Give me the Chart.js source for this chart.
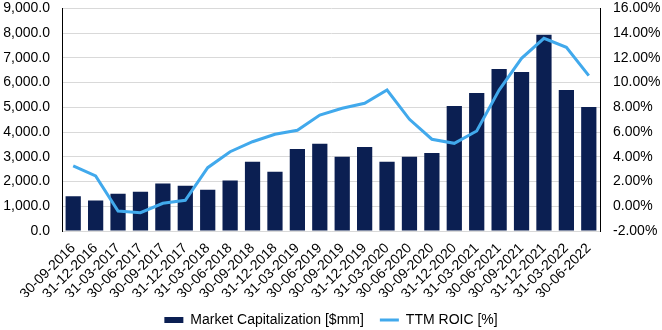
<!DOCTYPE html>
<html>
<head>
<meta charset="utf-8">
<script src="https://cdn.jsdelivr.net/npm/chart.js@4"></script>
<style>
  html, body { margin: 0; padding: 0; background: #fff; }
  #wrap { width: 662px; height: 330px; position: relative; }
</style>
</head>
<body>
<div id="wrap"><canvas id="chart"></canvas></div>
<script>
'use strict';

const quarters = [
  '30-09-2016','31-12-2016','31-03-2017','30-06-2017','30-09-2017','31-12-2017',
  '31-03-2018','30-06-2018','30-09-2018','31-12-2018','31-03-2019','30-06-2019',
  '30-09-2019','31-12-2019','31-03-2020','30-06-2020','30-09-2020','31-12-2020',
  '31-03-2021','30-06-2021','30-09-2021','31-12-2021','31-03-2022','30-06-2022',
];

const marketCap = [
  1400, 1230, 1510, 1590, 1920, 1830,
  1670, 2040, 2800, 2400, 3320, 3530,
  3000, 3400, 2800, 3000, 3150, 5050,
  5580, 6550, 6430, 7930, 5700, 5010,
];

const ttmRoic = [
  3.26, 2.45, -0.38, -0.52, 0.24, 0.48,
  3.12, 4.41, 5.22, 5.82, 6.14, 7.38,
  7.92, 8.33, 9.40, 7.03, 5.42, 5.09,
  6.09, 9.40, 11.96, 13.58, 12.85, 10.56,
];

const NAVY = '#0b1f52';
const SKY  = '#41a9ec';
const FONT = { family: '"Liberation Sans", Arial, sans-serif', size: 14 };

const fmtCap = v => v.toLocaleString('en-US', { minimumFractionDigits: 1, maximumFractionDigits: 1 });
const fmtPct = v => v.toFixed(2) + '%';

// legend spacing comes from labels.padding, which also grows the legend box;
// the x axis height is trimmed so the plot bottom stays put (labels clip to it)
new Chart(document.getElementById('chart'), {
  data: {
    labels: quarters,
    datasets: [
      {
        type: 'line',
        label: 'TTM ROIC [%]',
        data: ttmRoic,
        yAxisID: 'y2',
        borderColor: SKY,
        backgroundColor: SKY,
        borderWidth: 3,
        pointRadius: 0,
        tension: 0,
        pointStyle: 'line',
        order: 0,
      },
      {
        type: 'bar',
        label: 'Market Capitalization [$mm]',
        data: marketCap,
        yAxisID: 'y',
        backgroundColor: NAVY,
        borderWidth: 0,
        barPercentage: 0.68,
        categoryPercentage: 1,
        pointStyle: 'rect',
        order: 1,
      },
    ],
  },
  options: {
    responsive: true, maintainAspectRatio: false, animation: false,
    layout: { padding: { top: 0, left: 0, right: 0, bottom: -7 } },
    plugins: {
      legend: {
        position: 'bottom',
        reverse: true,
        labels: {
          font: FONT, color: '#000', usePointStyle: true,
          boxHeight: 6, pointStyleWidth: 19, padding: 16,
        },
      },
      tooltip: { enabled: false },
    },
    scales: {
      x: {
        ticks: { font: FONT, color: '#000', maxRotation: 45, minRotation: 45, autoSkip: false, padding: 9 },
        grid: { display: false, drawTicks: false },
        border: { color: '#d9d9d9' },
        afterFit: s => { s.height = 66; },
      },
      y: {
        position: 'left',
        min: 0, max: 9000,
        ticks: { stepSize: 1000, font: FONT, color: '#000', callback: fmtCap, padding: 0 },
        grid: { color: '#d9d9d9', drawTicks: true, tickLength: 12, tickColor: 'transparent' },
        border: { color: '#000' },
        afterFit: s => { s.width = 62; },
      },
      y2: {
        position: 'right',
        min: -2, max: 16,
        ticks: { stepSize: 2, font: FONT, color: '#000', callback: fmtPct, padding: 0 },
        grid: { display: true, drawOnChartArea: false, drawTicks: true, tickLength: 13, tickColor: 'transparent' },
        border: { color: '#000' },
        afterFit: s => { s.width = 62; },
      },
    },
  },
});
</script>
</body>
</html>
